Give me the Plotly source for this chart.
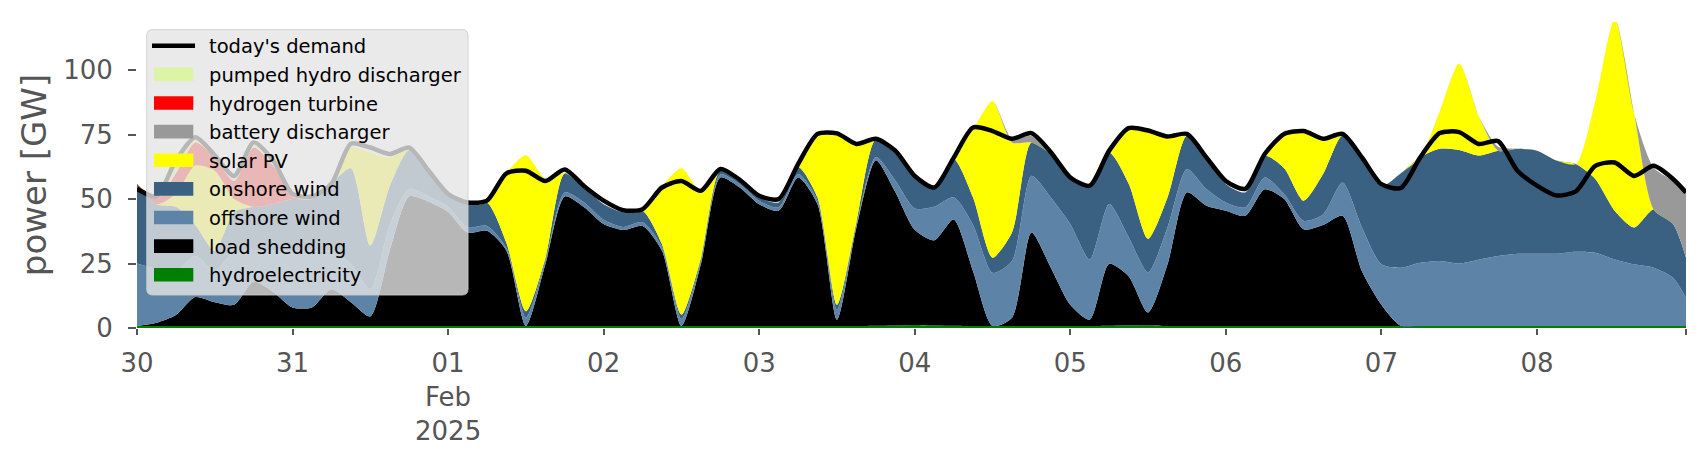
import pandas as pd
import plotly.graph_objects as go

# time axis: 3-hourly samples plus the final hour
times = list(pd.date_range("2025-01-30 00:00", periods=80, freq="3h")) + [pd.Timestamp("2025-02-08 23:00")]

hydroelectricity = [0.8] * 38 + [0.9, 1.0, 1.2, 1.0, 0.9] + [0.8] * 7 + [0.9, 1.1, 1.0] + [0.8] * 28
load_shedding = [0, 1.2, 4.2, 11.2, 9.2, 8.2, 17.2, 13.2, 7.2, 7.2,
                 14.2, 9.2, 3.7, 29.2, 50.2, 48.2, 44.2, 36.2, 36.9, 29.2,
                 0, 23.9, 50.2, 46.0, 39.5, 37.2, 38.8, 29.2, 0, 23.9,
                 57.6, 53.7, 47.2, 44.7, 57.6, 47.2, 2.4, 38.2, 64.2, 51.8,
                 36.9, 33.0, 41.2, 21.2, 0, 3.2, 36.2, 22.6, 8.2, 2.4,
                 24.0, 19.0, 5.0, 23.9, 51.8, 46.6, 44.7, 42.7, 53.0, 49.2,
                 37.5, 39.2, 42.7, 21.2, 8.2, 0, 0, 0, 0, 0,
                 0, 0, 0, 0, 0, 0, 0, 0, 0, 0, 0]
offshore_wind = [24.2, 21, 17, 16, 12, 21, 12, 16, 22, 22,
                 15, 15, 10.5, 10, 3, 2, 2, 2, 1.9, 1,
                 3.2, 1.3, 1.6, 1.9, 1.7, 1.2, 1.4, 1.5, 2.7, 1.3,
                 1.1, 1.3, 1.4, 1.3, 1.3, 1.4, 3.8, 1, 1.2, 4.4,
                 8.3, 13, 8.6, 18, 20.6, 22, 22, 27.2, 31.3, 23.4,
                 23.2, 15.2, 15.6, 14.3, 9.1, 6.5, 3.2, 3.3, 4.6, 2,
                 3.3, 4, 12.9, 17, 15.7, 22.6, 24.5, 25.2, 24.2, 25.7,
                 27.1, 28, 28, 28, 28.8, 28.4, 25.8, 23.9, 22.6, 18.7, 10.9]
onshore_wind = [31, 25, 25, 12, 8, 15, 17, 18, 20, 20,
                26, 37, 17, 15, 15, 10, 5, 9, 9.1, 2,
                2.5, 1, 7.4, 5.8, 6, 5.6, 4.5, 1, 1.7, 1,
                1.5, 0.7, 1.2, 1.9, 2.8, 1.2, 2, 1, 6.8, 11.3,
                12.5, 7.2, 14.9, 10.6, 5.9, 11, 13, 16.9, 18.2, 27.9,
                20, 20.8, 13, 11.6, 13, 11.7, 7.1, 5.8, 8.4, 10,
                7.8, 15.7, 18.3, 28, 30.3, 36.6, 40.9, 43.5, 44, 40.4,
                40.9, 40.7, 40, 36.2, 34, 28.6, 18.9, 14.3, 22.6, 20.8, 15.6]
solar_pv = [0, 0, 5, 23, 31, 5, 0, 0, 0, 0,
            0, 8, 36, 11, 1, 0, 0, 0, 0, 27,
            60.5, 31, 0, 0, 0, 0, 0, 22.5, 56.8, 26,
            0, 0, 0, 0, 0, 24.1, 66, 31, 0, 0,
            0, 0, 0, 26.4, 60.7, 35, 0, 0, 0, 0,
            0, 21.5, 42.2, 23.7, 0, 0, 0, 0, 0, 12.7,
            27, 13.7, 0, 0, 0, 0, 0, 14.5, 33.6, 15.4,
            0, 0, 0, 0, 0, 30.2, 74.5, 44, 0, 0, 0]
battery_discharger = [0] * 31 + [1] + [0] * 13 + [1.4, 2.5, 1] + [0] * 22 + [1.5] + [0] * 7 + [16.3, 16.8, 25.3]
hydrogen_turbine = [0, 2, 8, 9, 5, 7, 23, 15, 1] + [0] * 72
pumped_hydro_discharger = [0, 1, 3, 1, 1, 1, 1, 1, 1] + [0] * 72
todays_demand = [54, 51, 65, 74, 67, 59, 72, 65, 52, 51,
                 56, 71.5, 70, 67.5, 70, 61, 52, 48.7, 49.4, 60,
                 61, 57, 61.5, 55, 49.4, 45.7, 46.1, 54.5, 57, 53.2,
                 61.7, 57.5, 51.3, 50, 63.6, 75.3, 75.5, 71.4, 73.4, 68.8,
                 59, 54.5, 66, 77.8, 76.4, 73.4, 75.6, 68.2, 58.4, 55.2,
                 68.8, 77.5, 76.6, 74.3, 75.3, 66.2, 57, 54, 67.5, 75.3,
                 76.4, 73.4, 75.3, 66.2, 55.8, 54.3, 66.2, 75.6, 76, 71.4,
                 72.5, 61, 55.2, 51.4, 53, 62.9, 64.2, 59, 62.9, 57.8, 52.6]

tick_dates = ["2025-01-30", "2025-01-31", "2025-02-01", "2025-02-02", "2025-02-03",
              "2025-02-04", "2025-02-05", "2025-02-06", "2025-02-07", "2025-02-08",
              "2025-02-08 23:00"]
tick_labels = ["30", "31", "01<br>Feb<br>2025", "02", "03", "04", "05", "06", "07", "08", ""]
y_ticks = [0, 25, 50, 75, 100]

stack = [
    ("hydroelectricity", hydroelectricity, "#008000"),
    ("load shedding", load_shedding, "#000000"),
    ("offshore wind", offshore_wind, "#5d84a6"),
    ("onshore wind", onshore_wind, "#3b6182"),
    ("solar PV", solar_pv, "#ffff00"),
    ("battery discharger", battery_discharger, "#999999"),
    ("hydrogen turbine", hydrogen_turbine, "#ff0000"),
    ("pumped hydro discharger", pumped_hydro_discharger, "#d9f5a5"),
]

# the page body has an 8px margin, so the figure is placed at (8, 8) in the window
OFF = 8
W, H = 1706 - OFF, 460 - OFF
P_LEFT, P_RIGHT, P_TOP, P_BOTTOM = 137, 1685.8, 21.7, 328   # plot area in window pixels
ML = P_LEFT - OFF
MR = W - (P_RIGHT - OFF)
MT = P_TOP - OFF
MB = H - (P_BOTTOM - OFF)
PW, PH = W - ML - MR, H - MT - MB


def px(x):  # window pixel -> paper coordinate
    return (x - P_LEFT) / PW


def py(y):
    return (P_BOTTOM - y) / PH


fig = go.Figure()
for name, vals, col in stack:
    fig.add_trace(go.Scatter(
        x=times, y=vals, name=name, mode="lines", stackgroup="one",
        line=dict(width=0, color=col, shape="spline", smoothing=0.7), fillcolor=col,
        showlegend=False,
    ))
fig.add_trace(go.Scatter(
    x=times, y=todays_demand, name="today's demand", mode="lines",
    line=dict(color="black", width=4.5, shape="spline", smoothing=0.7),
    showlegend=False,
))

# legend drawn as a translucent box over the plot (like the reference)
shapes = []
annotations = []
bx0, bx1, by0, by1, r = 146.7, 468, 29.3, 295, 6
path = (f"M {px(bx0 + r)},{py(by0)} L {px(bx1 - r)},{py(by0)} Q {px(bx1)},{py(by0)} {px(bx1)},{py(by0 + r)} "
        f"L {px(bx1)},{py(by1 - r)} Q {px(bx1)},{py(by1)} {px(bx1 - r)},{py(by1)} "
        f"L {px(bx0 + r)},{py(by1)} Q {px(bx0)},{py(by1)} {px(bx0)},{py(by1 - r)} "
        f"L {px(bx0)},{py(by0 + r)} Q {px(bx0)},{py(by0)} {px(bx0 + r)},{py(by0)} Z")
shapes.append(dict(type="path", xref="paper", yref="paper", path=path, layer="above",
                   fillcolor="rgba(229,229,229,0.8)", line=dict(color="rgba(204,204,204,0.8)", width=1)))
legend_entries = [("today's demand", "black", "line")] + [(n, c, "patch") for n, _, c in reversed(stack)]
row0, step = 45.5, 28.65
for i, (name, col, kind) in enumerate(legend_entries):
    yc = row0 + i * step
    if kind == "line":
        shapes.append(dict(type="line", xref="paper", yref="paper", x0=px(152), x1=px(195),
                           y0=py(yc), y1=py(yc), layer="above", line=dict(color=col, width=4.5)))
    else:
        shapes.append(dict(type="rect", xref="paper", yref="paper", x0=px(154), x1=px(193.3),
                           y0=py(yc - 6.8), y1=py(yc + 6.8), layer="above",
                           fillcolor=col, line=dict(width=0)))
    annotations.append(dict(text=name, xref="paper", yref="paper", x=px(207), y=py(yc + 1),
                            xanchor="left", yanchor="middle", showarrow=False,
                            font=dict(size=19.5, color="black", family="DejaVu Sans")))

fig.update_layout(
    width=W, height=H,
    margin=dict(l=ML, r=MR, t=MT, b=MB, autoexpand=False),
    plot_bgcolor="white", paper_bgcolor="white",
    font=dict(family="DejaVu Sans", color="#555555"),
    showlegend=False,
    shapes=shapes, annotations=annotations,
)
fig.update_xaxes(
    type="date", range=["2025-01-30 00:00", "2025-02-08 23:00"],
    tickvals=tick_dates, ticktext=tick_labels,
    ticks="outside", ticklen=6, tickcolor="#555555", tickwidth=1.5,
    tickfont=dict(size=26, color="#555555"), ticklabelstandoff=6,
    showgrid=False, zeroline=False, showline=False, automargin=False,
)
fig.update_yaxes(
    range=[0, 118.7], tickvals=y_ticks,
    ticks="outside", ticklen=8, tickcolor="#555555", tickwidth=1.5,
    tickfont=dict(size=26, color="#555555"), ticklabelstandoff=10,
    title=dict(text="power [GW]", font=dict(size=34, color="#555555"), standoff=6),
    showgrid=False, zeroline=False, showline=False, automargin=False,
)
fig.write_html("out.html")
